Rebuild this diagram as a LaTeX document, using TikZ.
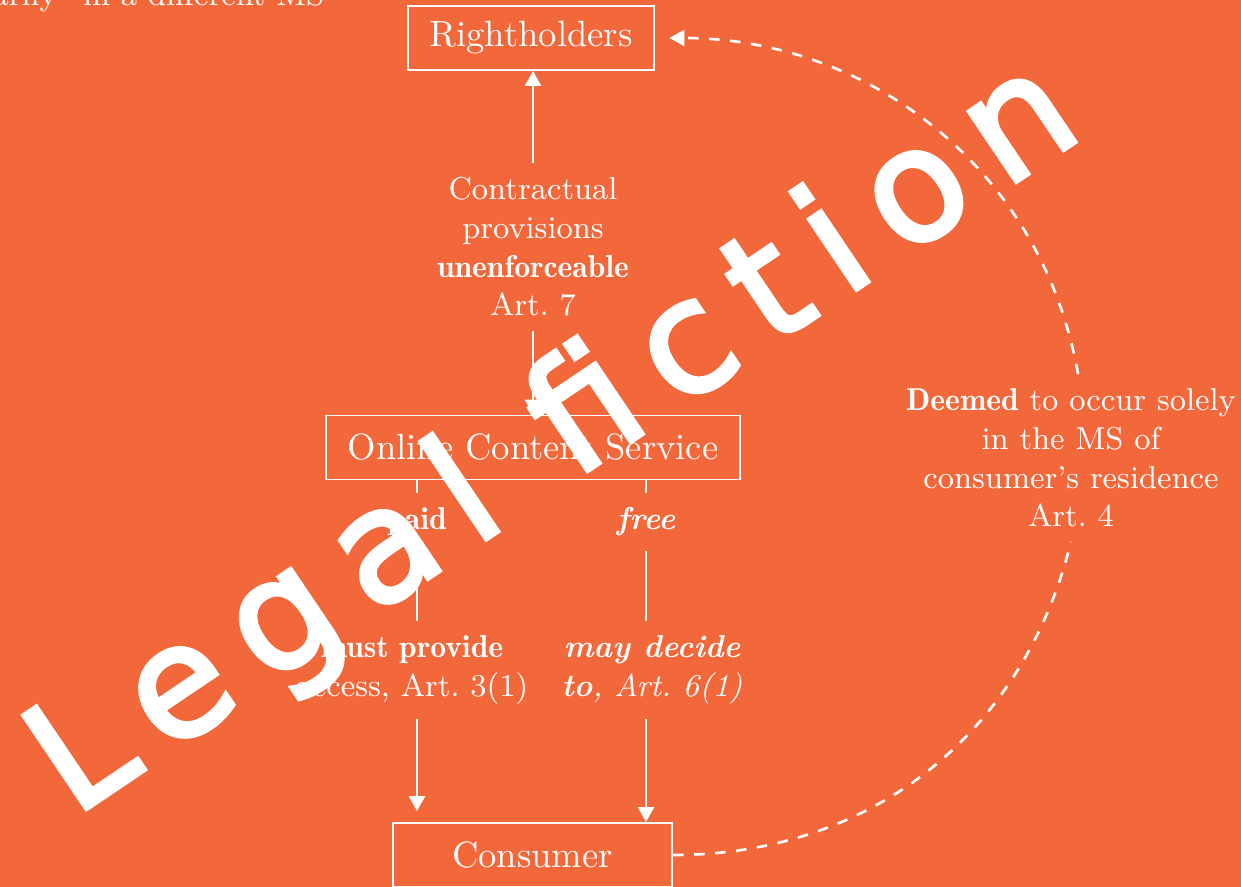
\documentclass[tikz,border=0pt]{standalone}
\usepackage{fontspec}
\usepackage{tikz}
\usetikzlibrary{arrows.meta,positioning}
\definecolor{SlideOrange}{HTML}{F3683B}
\newfontface\demifont{lmromandemi10-regular.otf}
\newfontfamily\scrawlfont{DejaVu Sans}[LetterSpace=18, FakeBold=3]
\newcommand{\dm}[1]{{\demifont #1}}

\begin{document}
\begin{tikzpicture}[
    box/.style={draw=white, line width=0.55pt, text=white, inner xsep=0.22cm,
      minimum height=0.64cm, font=\fontsize{10.4}{12.5}\selectfont},
    lbl/.style={text=white, align=center, inner sep=0.14cm,
      font=\fontsize{9}{11}\selectfont},
    link/.style={white, line width=0.75pt},
    tip/.style={-{Triangle[length=0.15cm,width=0.16cm]}}]
  \fill[SlideOrange] (0,0) rectangle (12.41,-8.87);
  \useasboundingbox (0,0) rectangle (12.41,-8.87);
  % leftover line of the slide above
  \node[lbl, anchor=base east, inner sep=0pt] (prev) at (3.25,-0.06)
    {``temporarily'' in a different MS};
  % the three parties
  \node[box] (right) at (5.31,-0.38) {Rightholders};
  \node[box] (ocs) at (5.33,-4.475) {Online Content Service};
  \node[box, minimum width=2.79cm] (consumer) at (5.325,-8.55) {Consumer};
  % contract rule, Art. 7
  \node[lbl] (contract) at (5.33,-2.47)
    {Contractual\\provisions\\\dm{unenforceable}\\Art.~7};
  \draw[link, tip] (contract.north) -- (contract.north |- right.south);
  \draw[link, tip] (contract.south) -- (contract.south |- ocs.north);
  % paid branch
  \node[lbl] (paid) at (4.17,-5.22) {\dm{paid}};
  \node[lbl] (must) at (4.12,-6.70) {\dm{must provide}\\access, Art.~3(1)};
  \draw[link] (ocs.south -| paid) -- (paid);
  \draw[link] (paid) -- (paid |- must.north);
  \draw[link, tip, shorten >=0.11cm] (must.south -| paid) -- (consumer.north -| paid);
  % free branch
  \node[lbl] (free) at (6.46,-5.22) {\textbf{\textit{free}}};
  \node[lbl] (may) at (6.52,-6.70)
    {\textbf{\textit{may decide}}\\\textbf{\textit{to}}\textit{, Art.~6(1)}};
  \draw[link] (ocs.south -| free) -- (free);
  \draw[link] (free) -- (free |- may.north);
  \draw[link, tip] (may.south -| free) -- (consumer.north -| free);
  % localisation fiction, Art. 4
  \node[lbl] (deemed) at (10.71,-4.58)
    {\dm{Deemed} to occur solely\\in the MS of\\consumer's residence\\Art.~4};
  \draw[link, dashed] (consumer.east) to[out=0, in=-104] (deemed.south);
  \draw[link, dashed, tip, shorten >=0.14cm] ([xshift=0.07cm]deemed.north)
    to[out=100, in=0] (right.east);
  % scribble on top
  \node[rotate=34, anchor=base, text=white, inner sep=0pt,
    font=\scrawlfont\fontsize{44}{46}\selectfont] (scrawl) at (5.80,-4.76)
    {Legal fiction};
\end{tikzpicture}
\end{document}
